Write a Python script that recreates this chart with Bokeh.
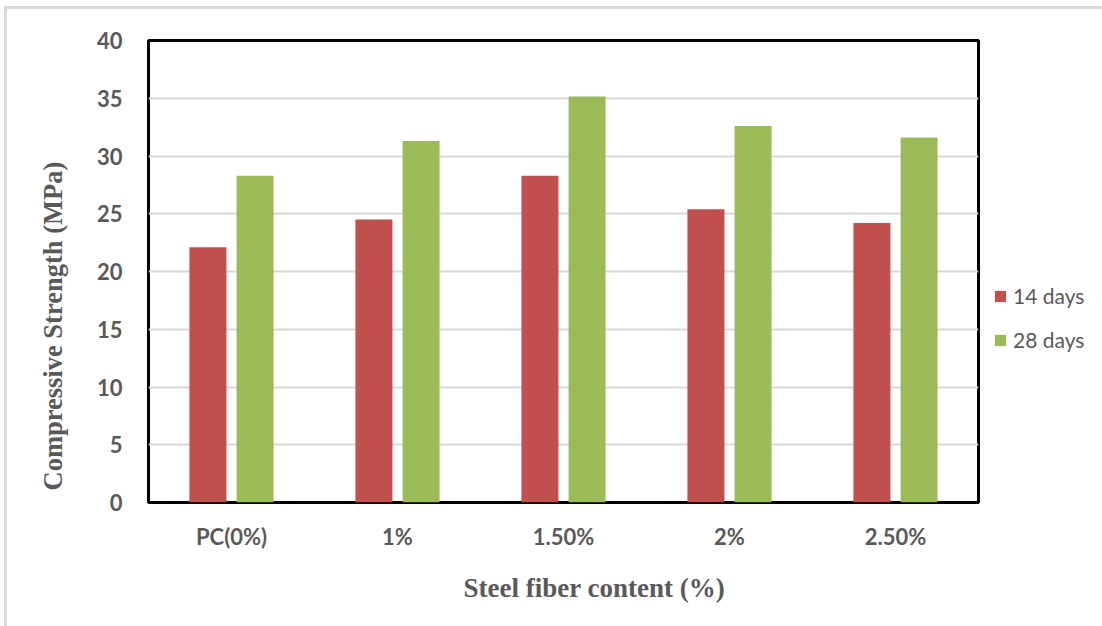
from bokeh.plotting import figure
from bokeh.models import (ColumnDataSource, Range1d, FixedTicker, Legend, LegendItem, Title)
from bokeh.layouts import column
from bokeh.transform import dodge
from bokeh.embed import file_html
from bokeh.resources import INLINE

categories = ["PC(0%)", "1%", "1.50%", "2%", "2.50%"]
days14 = [22.1, 24.5, 28.3, 25.4, 24.2]
days28 = [28.3, 31.3, 35.15, 32.6, 31.6]
y_ticks = [0, 5, 10, 15, 20, 25, 30, 35, 40]

pos = [i + 0.5 for i in range(len(categories))]
src = ColumnDataSource(dict(x=pos, d14=days14, d28=days28))

RED = "#C0504D"
GREEN = "#9BBB59"
GREY = "#595959"

p = figure(width=1095, height=617, frame_width=830, frame_height=462,
           output_backend="svg", toolbar_location=None,
           x_range=Range1d(0, 5), y_range=Range1d(0, 40),
           min_border_left=141, min_border_right=124, min_border_top=31, min_border_bottom=124)

r1 = p.vbar(x=dodge("x", -0.142, range=p.x_range), top="d14", width=0.223, source=src,
            fill_color=RED, line_color=None)
r2 = p.vbar(x=dodge("x", 0.142, range=p.x_range), top="d28", width=0.223, source=src,
            fill_color=GREEN, line_color=None)

p.outline_line_color = "black"
p.outline_line_width = 3
p.xgrid.visible = False
p.ygrid.grid_line_color = "#D9D9D9"
p.ygrid.grid_line_width = 2

p.yaxis.ticker = FixedTicker(ticks=y_ticks)
p.xaxis.ticker = FixedTicker(ticks=pos)
p.xaxis.major_label_overrides = {pp: c for pp, c in zip(pos, categories)}
for ax in (p.xaxis, p.yaxis):
    ax.axis_line_color = None
    ax.major_tick_line_color = None
    ax.minor_tick_line_color = None
    ax.major_label_text_font = "Lato"
    ax.major_label_text_font_style = "bold"
    ax.major_label_text_font_size = "22px"
    ax.major_label_text_color = GREY
p.yaxis.major_label_standoff = 20
p.xaxis.major_label_standoff = 14

p.add_layout(Title(text="Compressive Strength (MPa)", align="left", offset=12, standoff=51,
                   text_font="Liberation Serif", text_font_style="bold",
                   text_font_size="26.5px", text_color=GREY), "left")
p.add_layout(Title(text="Steel fiber content (%)", align="left", offset=315, standoff=36,
                   text_font="Liberation Serif", text_font_style="bold",
                   text_font_size="27px", text_color=GREY), "below")

legend = Legend(items=[LegendItem(label="14 days", renderers=[r1]),
                       LegendItem(label="28 days", renderers=[r2])],
                location=(15, 150), padding=0, margin=0, spacing=19,
                glyph_width=14, glyph_height=14, label_height=14, label_standoff=6,
                label_text_font="Lato", label_text_font_size="21px", label_text_color=GREY,
                border_line_color=None, background_fill_alpha=0)
p.add_layout(legend, "right")

layout = column(p, styles={"margin-left": "4px", "margin-top": "6px",
                           "border-left": "3px solid #D9D9D9", "border-top": "3px solid #D9D9D9"})

open("out.html", "w").write(file_html(layout, INLINE))
